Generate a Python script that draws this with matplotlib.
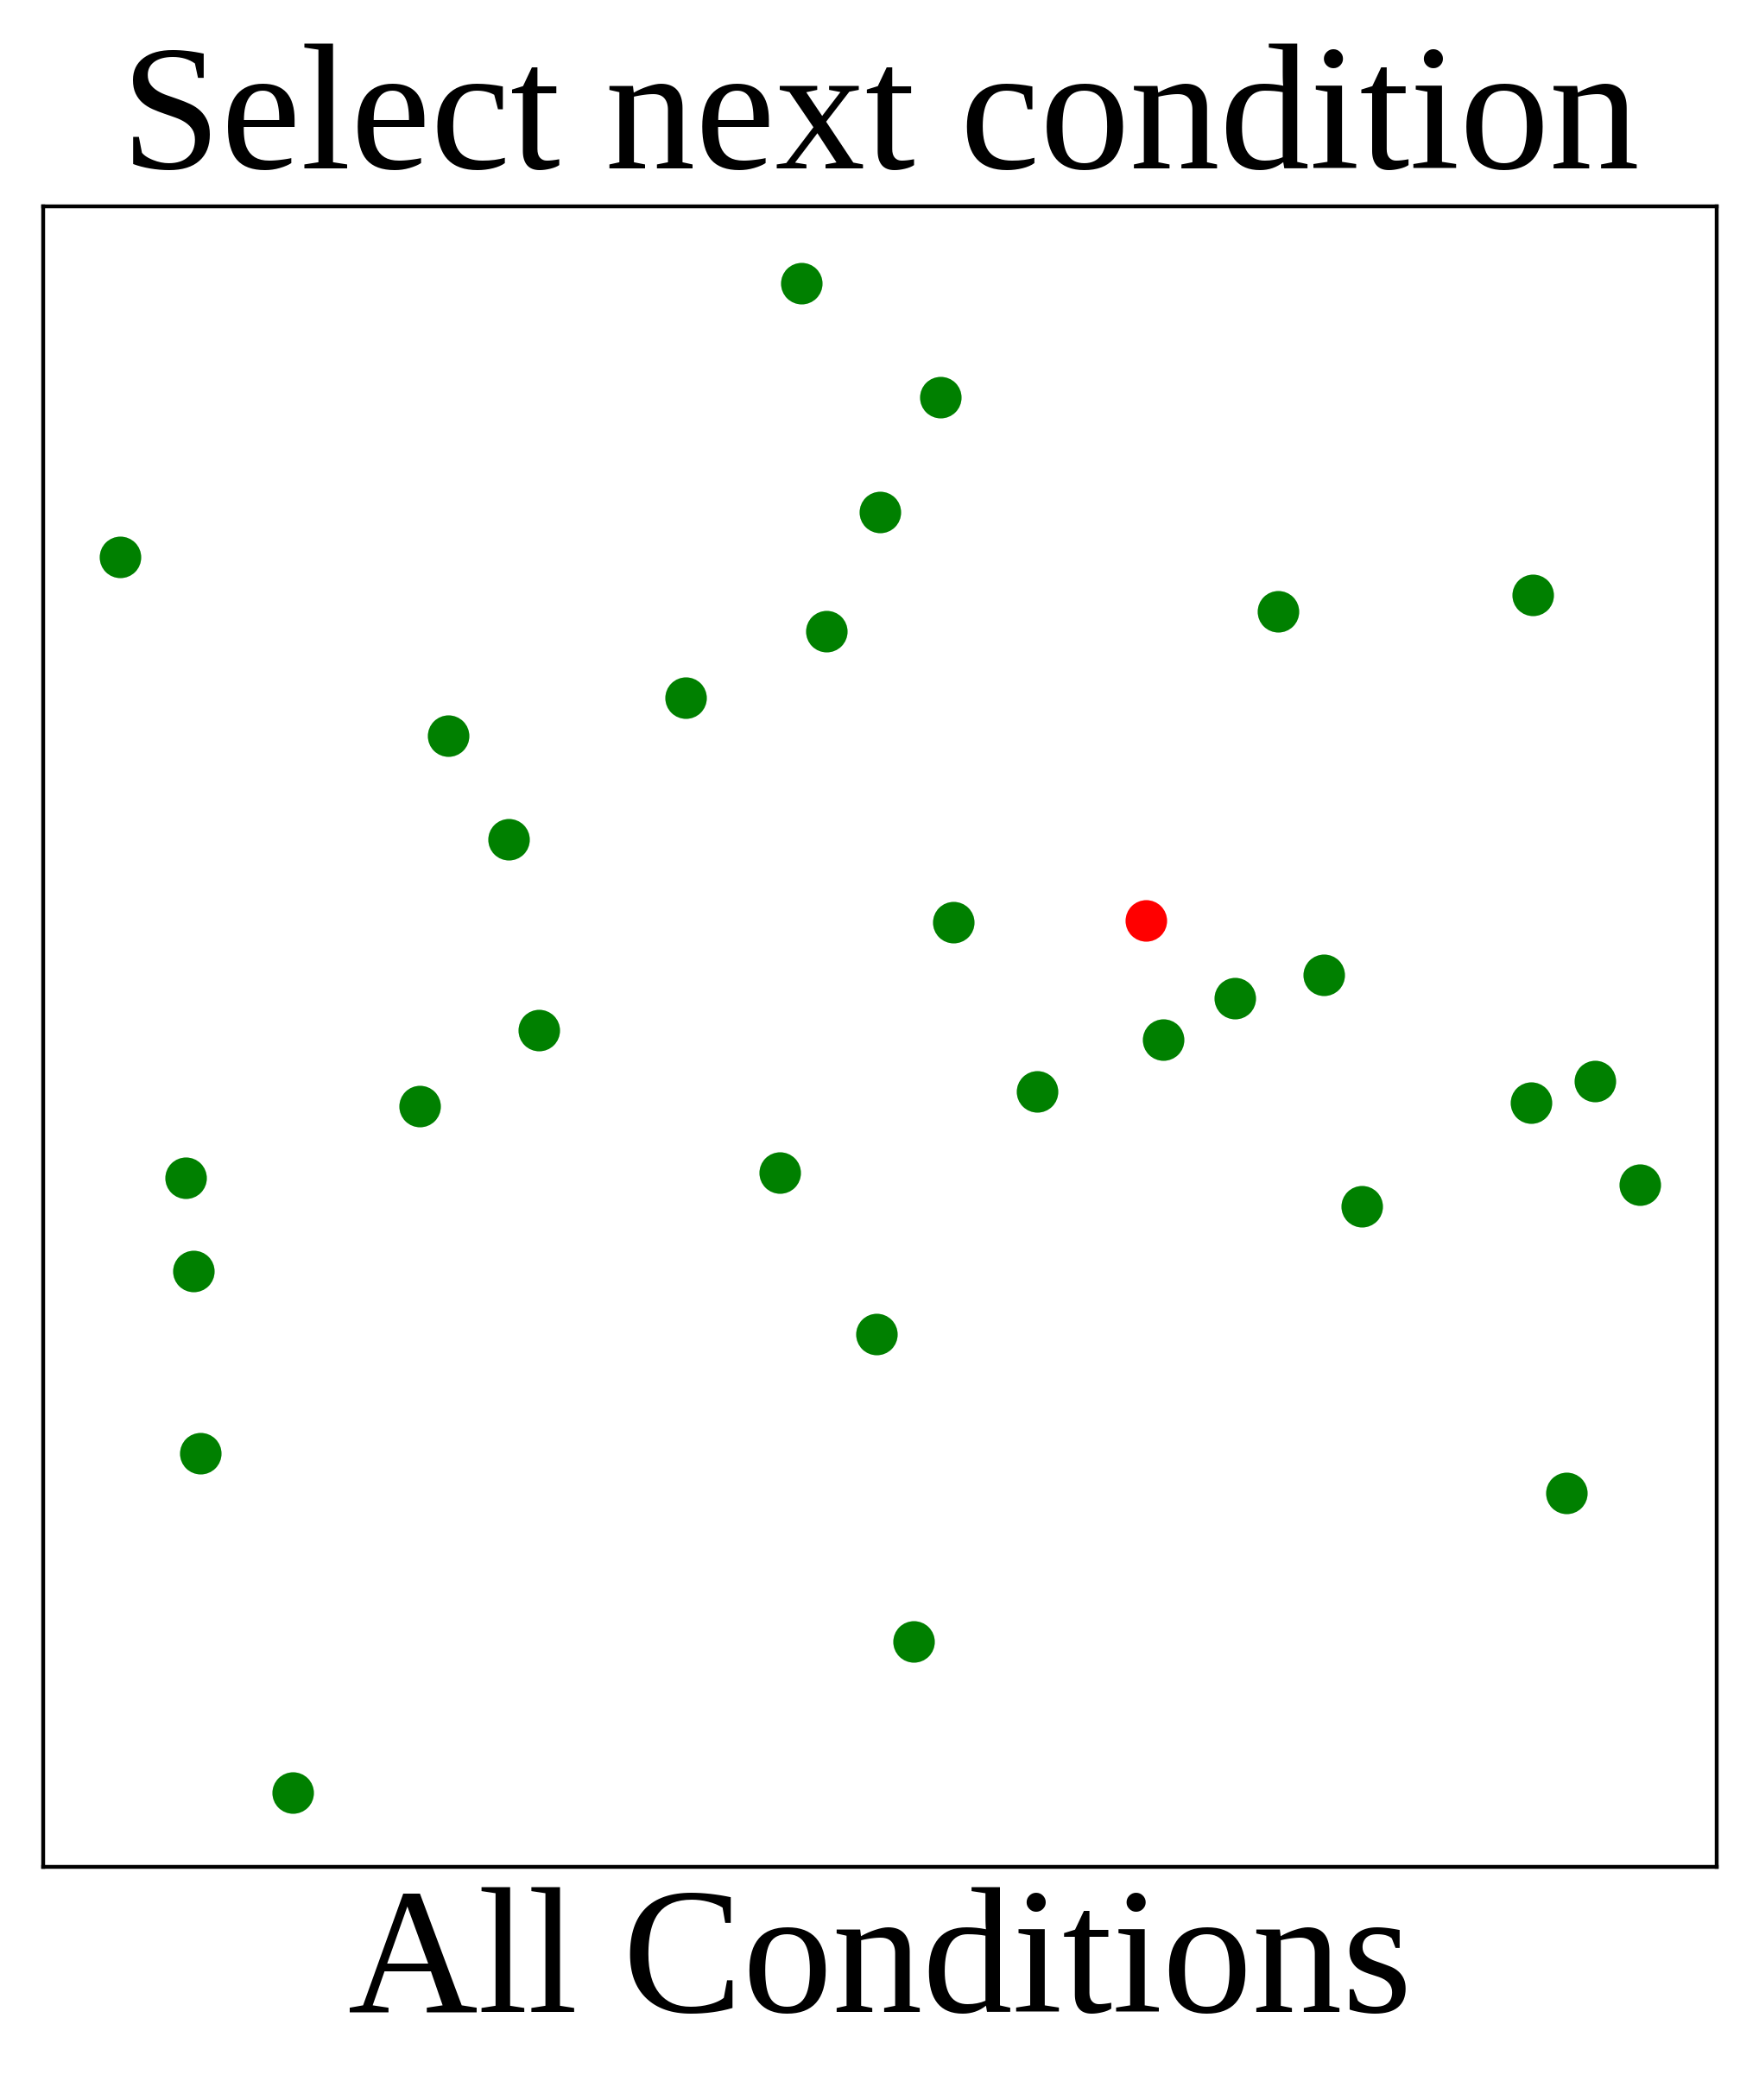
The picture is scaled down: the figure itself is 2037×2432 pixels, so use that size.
import matplotlib
matplotlib.use('Agg')
import matplotlib.pyplot as plt

# points (axes-fraction units)
x_green = [0.453, 0.536, 0.500, 0.046, 0.738, 0.890, 0.468, 0.384, 0.242, 0.278,
           0.544, 0.765, 0.712, 0.669, 0.296, 0.594, 0.927, 0.889, 0.225, 0.085,
           0.440, 0.954, 0.788, 0.090, 0.498, 0.094, 0.910, 0.520, 0.149]
y_green = [0.954, 0.885, 0.816, 0.789, 0.756, 0.766, 0.744, 0.704, 0.681, 0.619,
           0.569, 0.537, 0.523, 0.498, 0.504, 0.467, 0.473, 0.460, 0.458, 0.415,
           0.418, 0.411, 0.398, 0.359, 0.321, 0.249, 0.225, 0.136, 0.045]
x_red = [0.659]
y_red = [0.570]

plt.rcParams['font.family'] = ['Liberation Serif', 'DejaVu Serif']

fig = plt.figure(figsize=(20.37, 24.32), dpi=100)
ax = fig.add_axes([0.0245, 0.111, 0.9515, 0.7907])
ax.scatter(x_green, y_green, s=1200, color='green', linewidths=0)
ax.scatter(x_red, y_red, s=1200, color='red', linewidths=0)
ax.set_xlim(0, 1)
ax.set_ylim(0, 1)
ax.set_xticks([])
ax.set_yticks([])
for sp in ax.spines.values():
    sp.set_linewidth(3.2)
ax.set_title('Select next condition', fontsize=150, pad=22)
ax.set_xlabel('All Conditions', fontsize=150, labelpad=17)

fig.savefig('out.png', dpi=100)
